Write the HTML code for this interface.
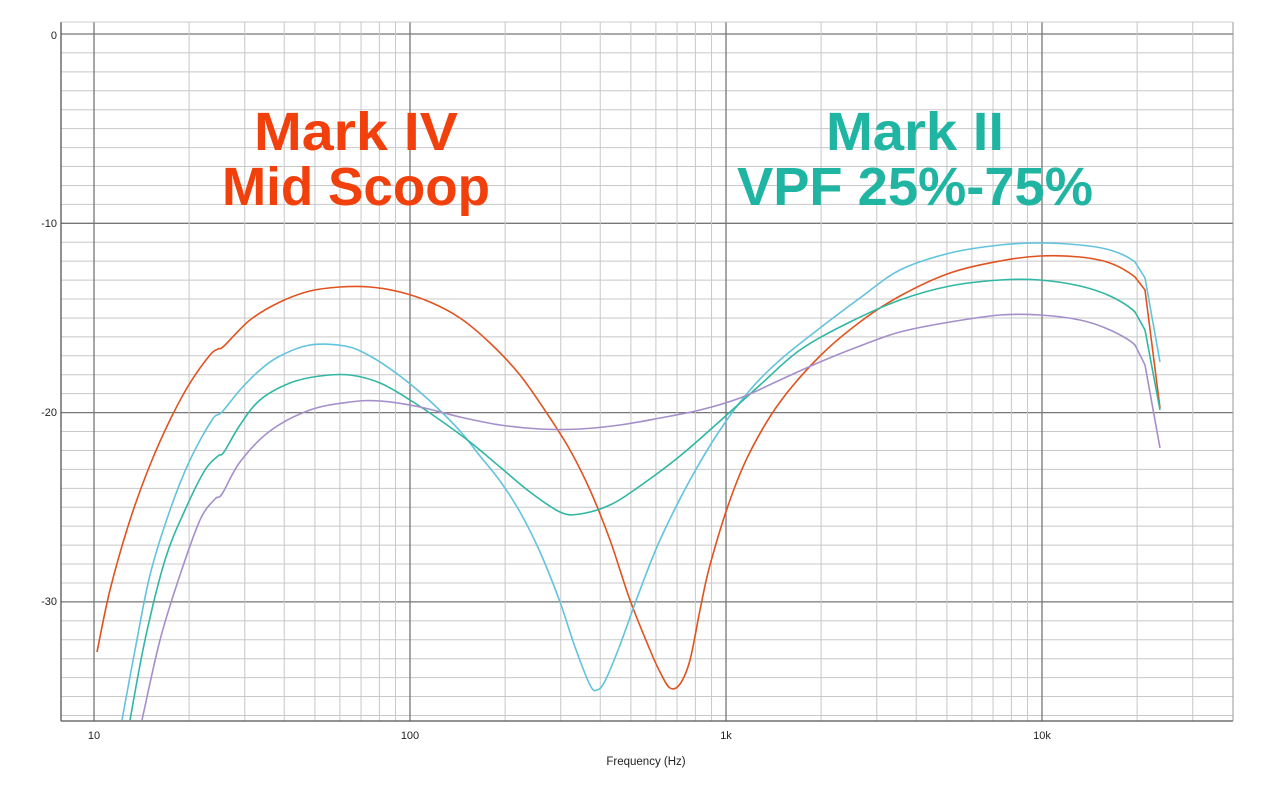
<!DOCTYPE html>
<html><head><meta charset="utf-8"><style>
html,body{margin:0;padding:0;background:#fff;}
svg{display:block;font-family:"Liberation Sans",Arial,sans-serif;}
</style></head><body>
<svg id="s" width="1280" height="786" viewBox="0 0 1280 786">
<rect width="1280" height="786" fill="#fff"/>
<g id="grid"></g>
<g font-size="11" fill="#222" text-anchor="end">
<text x="57" y="39">0</text><text x="57" y="227">-10</text><text x="57" y="416">-20</text><text x="57" y="605">-30</text>
</g>
<g font-size="11" fill="#222" text-anchor="middle">
<text x="94" y="739">10</text><text x="410" y="739">100</text><text x="726" y="739">1k</text><text x="1042" y="739">10k</text>
<text x="646" y="765" font-size="11.5">Frequency (Hz)</text>
</g>
<g font-weight="bold" text-anchor="middle" font-size="54">
<text x="356" y="150" fill="#f2400c" textLength="204" lengthAdjust="spacingAndGlyphs">Mark IV</text>
<text x="356" y="205" fill="#f2400c" textLength="268" lengthAdjust="spacingAndGlyphs">Mid Scoop</text>
<text x="915" y="150" fill="#20b5a2" textLength="178" lengthAdjust="spacingAndGlyphs">Mark II</text>
<text x="915" y="205" fill="#20b5a2" textLength="356" lengthAdjust="spacingAndGlyphs">VPF 25%-75%</text>
</g>
<g id="curves" fill="none" stroke-width="1.6" stroke-linejoin="round"></g>
</svg>
<script>
var NS="http://www.w3.org/2000/svg";
var g=document.getElementById("grid");
function line(x1,y1,x2,y2,c,w){var l=document.createElementNS(NS,"line");l.setAttribute("x1",x1);l.setAttribute("y1",y1);l.setAttribute("x2",x2);l.setAttribute("y2",y2);l.setAttribute("stroke",c);l.setAttribute("stroke-width",w);g.appendChild(l);}
var L=61,R=1233,T=22,B=721;
function fx(f){return 94+316*Math.log10(f/10);}
function fy(db){return 34+18.93*(-db);}
for(var d=0;d>=-36;d--){var y=fy(d);line(L,y,R,y,d%10==0?"#777":"#c8c8c8",d%10==0?1.3:1);}
[1,10,100,1000].forEach(function(dec){for(var k=1;k<10;k++){var f=dec*10*k;if(f<8||f>30000)continue;var x=fx(f);line(x,T,x,B,k==1?"#777":"#c8c8c8",k==1?1.3:1);}});
line(L,T,L,B,"#555",1.3);line(L,B,R,B,"#555",1.3);line(R,T,R,B,"#999",1);line(L,T,R,T,"#ccc",1);
var C={
"#e0531f":[[97,652],[110,590],[130,520],[150,465],[170,420],[190,383],[210,355],[218,349],[224,346],[250,320],[280,302],[310,291],[340,287],[370,287],[400,292],[430,302],[460,318],[490,343],[520,375],[550,418],[570,450],[590,490],[610,540],[630,600],[650,650],[660,672],[670,688],[680,684],[690,660],[700,610],[710,565],[730,500],[750,452],[780,402],[820,356],[860,322],[900,296],[950,273],[1000,261],[1040,256],[1080,257],[1110,263],[1135,277],[1145,290],[1160,408]],
"#62c3dd":[[122,720],[135,650],[150,575],[170,510],[190,460],[212,420],[222,412],[240,390],[260,370],[280,356],[310,345],[345,346],[370,356],[400,376],[430,401],[460,431],[480,456],[500,481],[520,512],[540,552],[560,602],[575,647],[590,685],[597,690],[605,681],[620,645],[640,590],[660,540],[690,480],[720,430],[750,390],[780,360],[820,328],[860,298],[900,270],[950,253],[1000,245],[1040,243],[1080,245],[1110,250],[1135,262],[1145,278],[1160,362]],
"#2fb7a3":[[130,720],[145,640],[165,560],[185,510],[205,470],[218,456],[224,452],[240,425],[260,400],[290,383],[320,376],[350,375],[380,383],[410,400],[440,420],[470,442],[500,467],[530,492],[560,512],[580,514],[610,505],[640,486],[680,456],[720,421],[760,385],[800,350],[850,322],[900,300],[950,286],[1000,280],[1040,280],[1080,286],[1110,296],[1135,312],[1145,330],[1160,410]],
"#a58fcb":[[142,720],[160,640],[180,575],[200,520],[215,499],[222,494],[240,462],[270,431],[310,410],[350,402],[380,401],[420,407],[460,417],[500,425],[540,429],[580,429],[620,425],[660,418],[700,410],[740,398],[780,380],[820,362],[860,346],[900,332],[950,322],[1000,315],[1040,315],[1080,320],[1110,330],[1135,345],[1145,365],[1160,448]]};
function smooth(P){var d="M"+P[0][0]+","+P[0][1];var n=P.length;
for(var i=0;i<n-1;i++){var p0=P[Math.max(0,i-1)],p1=P[i],p2=P[i+1],p3=P[Math.min(n-1,i+2)];
if(i>=n-3){d+=" L"+p2[0]+","+p2[1];continue;}
var c1x=p1[0]+(p2[0]-p0[0])/6,c1y=p1[1]+(p2[1]-p0[1])/6,c2x=p2[0]-(p3[0]-p1[0])/6,c2y=p2[1]-(p3[1]-p1[1])/6;
d+=" C"+c1x.toFixed(1)+","+c1y.toFixed(1)+" "+c2x.toFixed(1)+","+c2y.toFixed(1)+" "+p2[0]+","+p2[1];}
return d;}
var cg=document.getElementById("curves");
for(var c in C){var p=document.createElementNS(NS,"path");p.setAttribute("d",smooth(C[c]));p.setAttribute("stroke",c);cg.appendChild(p);}
</script>
</body></html>
